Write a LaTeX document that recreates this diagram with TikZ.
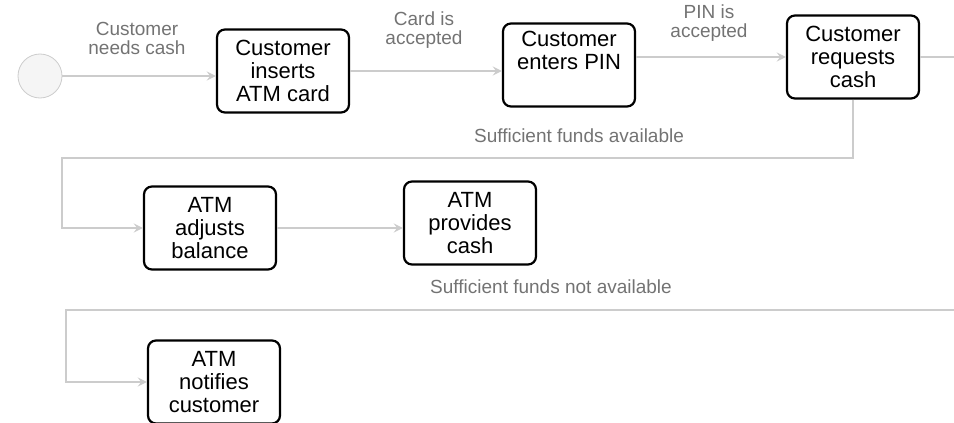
\documentclass[tikz,border=0pt]{standalone}
\usepackage{fontspec}
\setmainfont{Liberation Sans}

\begin{document}
\begin{tikzpicture}[
        x=0.5pt, y=-0.5pt,
        stepbox/.style={draw, rounded corners=4pt, line width=1.1pt, align=center,
          minimum width=66pt, minimum height=41.5pt, inner sep=2pt,
          font=\fontsize{11}{11.5}\selectfont},
        lbl/.style={text=black!55, align=center, font=\fontsize{9.5}{9.5}\selectfont},
        flow/.style={draw=black!20, line width=1pt, ->, >=stealth}
      ]
      \clip (0,0) rectangle (954,423);
      \node[circle, draw=black!20, fill=black!4, minimum size=22pt, inner sep=0pt] (start) at (40,76) {};
      \node[stepbox] (insert) at (283,71) {Customer\\inserts\\ATM card};
      \node[stepbox] (pin) at (569,65) {Customer\\enters PIN\\\strut};
      \node[stepbox] (request) at (853,57) {Customer\\requests\\cash};
      \node[stepbox] (adjust) at (210,228) {ATM\\adjusts\\balance};
      \node[stepbox] (provide) at (470,223) {ATM\\provides\\cash};
      \node[stepbox] (notify) at (214,382) {ATM\\notifies\\customer};

      \node[lbl] (needs) at (137,38) {Customer\\needs cash};
      \node[lbl] (cardok) at (424,30) {Card is\\accepted};
      \node[lbl] (pinok) at (709,23) {PIN is\\accepted};
      \node[lbl] (enough) at (579,136) {Sufficient funds available};
      \node[lbl] (notenough) at (551,287) {Sufficient funds not available};

      \coordinate (loopa) at (62,158);
      \coordinate (loopb) at (66,310);
      \coordinate (edge) at (975,55);

      \draw[flow] (start) -- (start -| insert.west);
      \draw[flow] (insert.east) -- (insert.east -| pin.west);
      \draw[flow] (request.west -| pin.east) -- (request.west);
      \draw[flow] (request.south) |- (loopa) |- (adjust.west);
      \draw[flow] (adjust.east) -- (adjust.east -| provide.west);
      \draw[flow] (request.east) -- (request.east -| edge) |- (loopb) |- (notify.west);
    \end{tikzpicture}
\end{document}
